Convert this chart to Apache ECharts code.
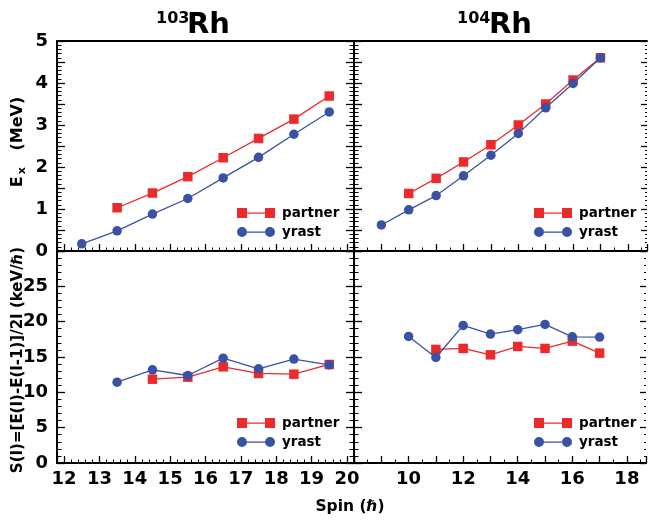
<!DOCTYPE html>
<html><head><meta charset="utf-8">
<script src="https://cdn.jsdelivr.net/npm/echarts@6/dist/echarts.min.js"></script>
<style>html,body{margin:0;padding:0;background:#fff}#c{width:649px;height:524px}</style>
</head><body><div id="c"></div>
<script>
// ---- data ----
const rh103SpinYrast = [12.5, 13.5, 14.5, 15.5, 16.5, 17.5, 18.5, 19.5];
const rh103ExYrast = [0.17, 0.48, 0.88, 1.25, 1.74, 2.23, 2.78, 3.31];
const rh103SpinPartner = [13.5, 14.5, 15.5, 16.5, 17.5, 18.5, 19.5];
const rh103ExPartner = [1.03, 1.38, 1.77, 2.22, 2.68, 3.14, 3.69];
const rh103SSpinYrast = [13.5, 14.5, 15.5, 16.5, 17.5, 18.5, 19.5];
const rh103SYrast = [11.44, 13.19, 12.38, 14.84, 13.33, 14.70, 13.89];
const rh103SSpinPartner = [14.5, 15.5, 16.5, 17.5, 18.5, 19.5];
const rh103SPartner = [11.86, 12.15, 13.61, 12.67, 12.57, 13.94];

const rh104SpinYrast = [9, 10, 11, 12, 13, 14, 15, 16, 17];
const rh104ExYrast = [0.62, 0.98, 1.32, 1.79, 2.28, 2.80, 3.41, 3.99, 4.60];
const rh104SpinPartner = [10, 11, 12, 13, 14, 15, 16, 17];
const rh104ExPartner = [1.37, 1.73, 2.12, 2.53, 3.00, 3.50, 4.07, 4.60];
const rh104SSpinYrast = [10, 11, 12, 13, 14, 15, 16, 17];
const rh104SYrast = [17.91, 14.93, 19.47, 18.24, 18.86, 19.61, 17.86, 17.82];
const rh104SSpinPartner = [11, 12, 13, 14, 15, 16, 17];
const rh104SPartner = [16.07, 16.21, 15.31, 16.49, 16.21, 17.25, 15.55];

const titles = ['103', '104'];
const legendNames = ['partner', 'yrast'];

// ---- styling ----
const FONT = 'DejaVu Sans';
const RED = '#ec2a2c';
const BLUE = '#3a52a3';
const pair = (xs, ys) => xs.map((x, i) => [x, ys[i]]);

const grids = [
  {left: 57, top: 41, width: 297, height: 210},
  {left: 57, top: 251, width: 297, height: 212},
  {left: 354, top: 41, width: 293, height: 210},
  {left: 354, top: 251, width: 293, height: 212}
];

const lineStyleAxis = {color: '#000', width: 2};
const labelStyle = {color: '#000', fontFamily: FONT, fontWeight: 'bold', fontSize: 18};

function xAxisDef(gi, cfg) {
  return Object.assign({
    type: 'value', gridIndex: gi, position: 'bottom',
    axisLine: {show: true, onZero: false, lineStyle: lineStyleAxis},
    axisTick: {show: true, inside: true, length: 7, lineStyle: {color: '#000', width: 1.3}},
    minorTick: {show: true, length: 3.5, lineStyle: {color: '#000', width: 1}},
    splitLine: {show: false}, minorSplitLine: {show: false}
  }, cfg);
}
function yAxisDef(gi, cfg) {
  return Object.assign({
    type: 'value', gridIndex: gi, position: 'left',
    axisLine: {show: true, onZero: false, lineStyle: lineStyleAxis},
    axisTick: {show: true, inside: true, length: 8, lineStyle: {color: '#000', width: 1.3}},
    minorTick: {show: true, length: 4.5, lineStyle: {color: '#000', width: 1}},
    splitLine: {show: false}, minorSplitLine: {show: false}
  }, cfg);
}

const xLeft = {min: 11.8, max: 20.2, splitNumber: 8, minorTick: {show: true, splitNumber: 5, length: 3.5, lineStyle: {color: '#000', width: 1}}};
const xRight = {min: 8, max: 18.7, interval: 1, minorTick: {show: true, splitNumber: 2, length: 3.5, lineStyle: {color: '#000', width: 1}}};
const yTop = {min: 0, max: 5, interval: 0.5, minorTick: {show: true, splitNumber: 5, length: 4.5, lineStyle: {color: '#000', width: 1}}};
const yBot = {min: 0, max: 30, interval: 5, minorTick: {show: true, splitNumber: 5, length: 4.5, lineStyle: {color: '#000', width: 1}}};

const noLabel = {show: false};
const xAxes = [
  xAxisDef(0, Object.assign({}, xLeft, {axisLabel: noLabel})),
  xAxisDef(1, Object.assign({}, xLeft, {axisLabel: Object.assign({show: true, margin: 7,
    formatter: v => (Math.abs(v - Math.round(v)) < 1e-6 ? String(Math.round(v)) : '')}, labelStyle)})),
  xAxisDef(2, Object.assign({}, xRight, {axisLabel: noLabel})),
  xAxisDef(3, Object.assign({}, xRight, {axisLabel: Object.assign({show: true, margin: 7,
    formatter: v => (v >= 10 && v % 2 === 0 ? String(v) : '')}, labelStyle)})),
  // top frame lines
  xAxisDef(0, Object.assign({}, xLeft, {position: 'top', axisTick: {show: false}, minorTick: {show: false}, axisLabel: noLabel})),
  xAxisDef(2, Object.assign({}, xRight, {position: 'top', axisTick: {show: false}, minorTick: {show: false}, axisLabel: noLabel}))
];

const yAxes = [
  yAxisDef(0, Object.assign({}, yTop, {axisLabel: Object.assign({show: true, margin: 9,
    formatter: v => (Math.abs(v - Math.round(v)) < 1e-6 ? String(Math.round(v)) : '')}, labelStyle)})),
  yAxisDef(1, Object.assign({}, yBot, {axisLabel: Object.assign({show: true, margin: 9,
    formatter: v => (v <= 25 ? String(v) : '')}, labelStyle)})),
  yAxisDef(2, Object.assign({}, yTop, {axisLabel: noLabel})),
  yAxisDef(3, Object.assign({}, yBot, {axisLabel: noLabel})),
  // right-side ticks
  yAxisDef(0, Object.assign({}, yTop, {position: 'right', axisLabel: noLabel})),
  yAxisDef(1, Object.assign({}, yBot, {position: 'right', axisLabel: noLabel})),
  yAxisDef(2, Object.assign({}, yTop, {position: 'right', axisLabel: noLabel, axisLine: {show: false},
    axisTick: {show: true, inside: true, length: 6, lineStyle: {color: '#000', width: 1.3}},
    minorTick: {show: true, splitNumber: 5, length: 2, lineStyle: {color: '#000', width: 1}}})),
  yAxisDef(3, Object.assign({}, yBot, {position: 'right', axisLabel: noLabel, axisLine: {show: false},
    axisTick: {show: true, inside: true, length: 6, lineStyle: {color: '#000', width: 1.3}},
    minorTick: {show: true, splitNumber: 5, length: 2, lineStyle: {color: '#000', width: 1}}}))
];

function mkSeries(name, gi, data) {
  const isP = name === 'partner';
  return {
    name: name, type: 'line', xAxisIndex: gi, yAxisIndex: gi, data: data,
    symbol: isP ? 'rect' : 'circle', symbolSize: 9.5,
    showSymbol: true,
    itemStyle: {color: isP ? RED : BLUE},
    lineStyle: {color: isP ? RED : BLUE, width: 1.3},
    z: isP ? 2 : 3, animation: false
  };
}

const series = [
  mkSeries('partner', 0, pair(rh103SpinPartner, rh103ExPartner)),
  mkSeries('yrast', 0, pair(rh103SpinYrast, rh103ExYrast)),
  mkSeries('partner', 1, pair(rh103SSpinPartner, rh103SPartner)),
  mkSeries('yrast', 1, pair(rh103SSpinYrast, rh103SYrast)),
  mkSeries('partner', 2, pair(rh104SpinPartner, rh104ExPartner)),
  mkSeries('yrast', 2, pair(rh104SpinYrast, rh104ExYrast)),
  mkSeries('partner', 3, pair(rh104SSpinPartner, rh104SPartner)),
  mkSeries('yrast', 3, pair(rh104SSpinYrast, rh104SYrast))
];

const iconRect = 'path://M0,0h10v10h-10z M28,0h10v10h-10z M10,4.4h18v1.3h-18z';
const iconCirc = 'path://M0,5a5,5 0 1,0 10,0a5,5 0 1,0 -10,0z M28,5a5,5 0 1,0 10,0a5,5 0 1,0 -10,0z M10,4.4h18v1.3h-18z';
function mkLegend(left, top) {
  return {
    left: left, top: top, orient: 'vertical', itemWidth: 38, itemHeight: 10, itemGap: 5,
    selectedMode: false, padding: 0,
    data: [{name: legendNames[0], icon: iconRect}, {name: legendNames[1], icon: iconCirc}],
    textStyle: {color: '#000', fontFamily: FONT, fontWeight: 'bold', fontSize: 13.5, lineHeight: 14, padding: [0, 0, 0, 2]}
  };
}

const chart = echarts.init(document.getElementById('c'), null, {renderer: 'canvas'});
chart.setOption({
  animation: false,
  backgroundColor: '#fff',
  grid: grids.map(g => Object.assign({show: false, containLabel: false}, g)),
  xAxis: xAxes,
  yAxis: yAxes,
  legend: [mkLegend(237, 206), mkLegend(237, 416), mkLegend(534, 206), mkLegend(534, 416)],
  series: series,
  graphic: [
    {type: 'text', left: 156, top: 11, style: {text: titles[0], font: 'bold 16px "DejaVu Sans"', fill: '#000'}},
    {type: 'text', left: 187, top: 11, style: {text: 'Rh', font: 'bold 29px "DejaVu Sans"', fill: '#000'}},
    {type: 'text', left: 457, top: 11, style: {text: titles[1], font: 'bold 16px "DejaVu Sans"', fill: '#000'}},
    {type: 'text', left: 489, top: 11, style: {text: 'Rh', font: 'bold 29px "DejaVu Sans"', fill: '#000'}},
    {type: 'text', x: 18, y: 142, rotation: Math.PI / 2,
      style: {text: '{e|E}{s|x}{e|   (MeV)}', align: 'center', verticalAlign: 'middle',
        rich: {e: {font: 'bold 16px "DejaVu Sans"', fill: '#000'},
               s: {font: 'bold 11px "DejaVu Sans"', fill: '#000', padding: [8, 0, 0, 2]}}}},
    {type: 'text', x: 18, y: 360, rotation: Math.PI / 2,
      style: {text: 'S(I)=[E(I)-E(I-1)]/2I (keV/\u210F)', align: 'center', verticalAlign: 'middle',
        font: 'bold 15px "DejaVu Sans"', fill: '#000'}},
    {type: 'text', x: 350, y: 507,
      style: {text: 'Spin (\u210F)', align: 'center', verticalAlign: 'middle',
        font: 'bold 15.5px "DejaVu Sans"', fill: '#000'}}
  ]
});
</script></body></html>
